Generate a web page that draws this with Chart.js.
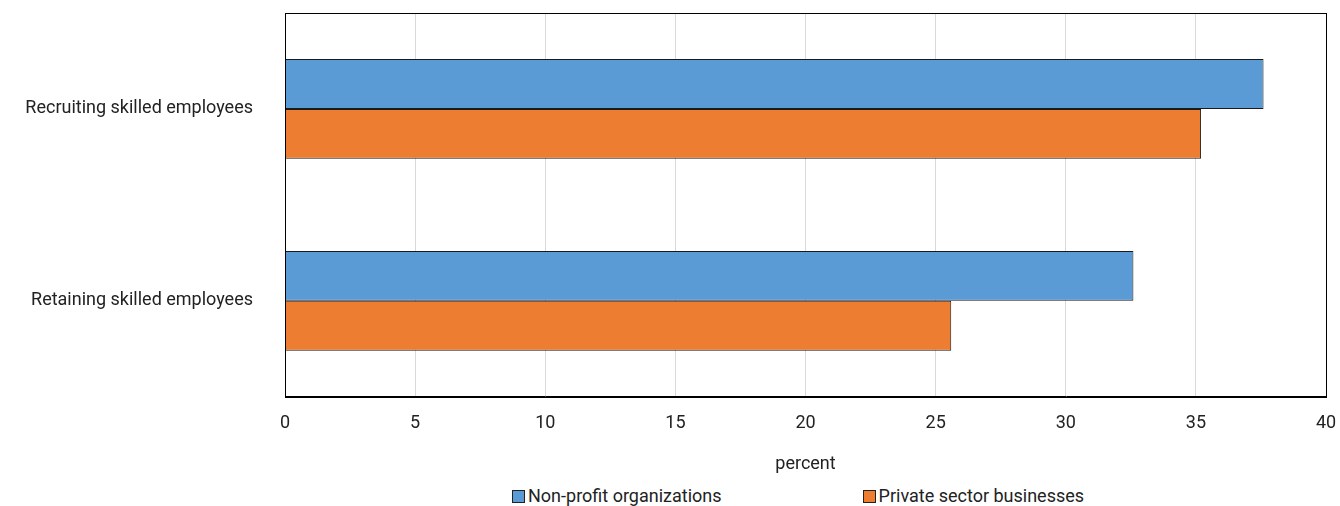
<!DOCTYPE html>
<html>
<head>
<meta charset="utf-8">
<script src="https://cdn.jsdelivr.net/npm/chart.js@4"></script>
<style>
  body { margin: 0; background: #fff; font-family: Roboto, sans-serif; overflow: hidden; }
  #wrap { width: 1340px; height: 475px; position: relative; }
  #legend { display: flex; justify-content: flex-start; gap: 141px; padding-left: 512px; margin-top: 11px; font-size: 18px; line-height: 20px; color: #222; }
  #legend span.item { display: flex; align-items: center; }
  #legend span.box { width: 11px; height: 11px; border: 1px solid #222; margin-right: 3px; display: inline-block; }
</style>
</head>
<body>
<div id="wrap"><canvas id="chart"></canvas></div>
<div id="legend"></div>
<script>
const categories = ['Recruiting skilled employees', 'Retaining skilled employees'];
const seriesNames = ['Non-profit organizations', 'Private sector businesses'];
const nonProfit = [37.6, 32.6];
const privateSector = [35.2, 25.6];
const xTicks = [0, 5, 10, 15, 20, 25, 30, 35, 40];

const COLORS = ['#5B9BD5', '#ED7D31'];

// frame around the plot area (top + right edges too)
const frame = {
  id: 'frame',
  afterDraw(chart) {
    const { ctx, chartArea: a } = chart;
    ctx.save();
    ctx.strokeStyle = '#000';
    ctx.lineWidth = 1;
    ctx.strokeRect(Math.round(a.left) + 0.5, Math.round(a.top) + 0.5, Math.round(a.right - a.left), Math.round(a.bottom - a.top));
    ctx.restore();
  }
};

const font = { family: 'Roboto, sans-serif', size: 18 };

new Chart(document.getElementById('chart'), {
  type: 'bar',
  data: {
    labels: categories,
    datasets: [
      { label: seriesNames[0], data: nonProfit, backgroundColor: COLORS[0], borderColor: '#1a1a1a', borderWidth: 1 },
      { label: seriesNames[1], data: privateSector, backgroundColor: COLORS[1], borderColor: '#1a1a1a', borderWidth: 1 },
    ],
  },
  options: {
    indexAxis: 'y',
    responsive: true,
    maintainAspectRatio: false,
    animation: false,
    layout: { padding: { top: 13, right: 14, left: 0, bottom: 0 } },
    datasets: { bar: { categoryPercentage: 0.52, barPercentage: 1 } },
    plugins: {
      legend: { display: false },
      tooltip: { enabled: false },
    },
    scales: {
      x: {
        min: 0, max: 40,
        afterBuildTicks(scale) { scale.ticks = xTicks.map(v => ({ value: v })); },
        afterFit(scale) {
          scale.paddingLeft = 0;
          scale.paddingRight = 0;
        },
        grid: { color: '#d9d9d9', drawTicks: false },
        border: { color: '#000' },
        ticks: { color: '#222', font, padding: 16 },
        title: { display: true, text: 'percent', color: '#222', font, padding: { top: 3, bottom: 0 } },
      },
      y: {
        afterFit(scale) {
          scale.width = 285;
          scale.paddingTop = 0;
          scale.paddingBottom = 0;
        },
        grid: { display: false, drawTicks: false },
        border: { color: '#000' },
        ticks: { color: '#222', font, padding: 32 },
      },
    },
  },
  plugins: [frame],
});

document.getElementById('legend').innerHTML = seriesNames.map((n, i) =>
  `<span class="item"><span class="box" style="background:${COLORS[i]}"></span>${n}</span>`).join('');
</script>
</body>
</html>
